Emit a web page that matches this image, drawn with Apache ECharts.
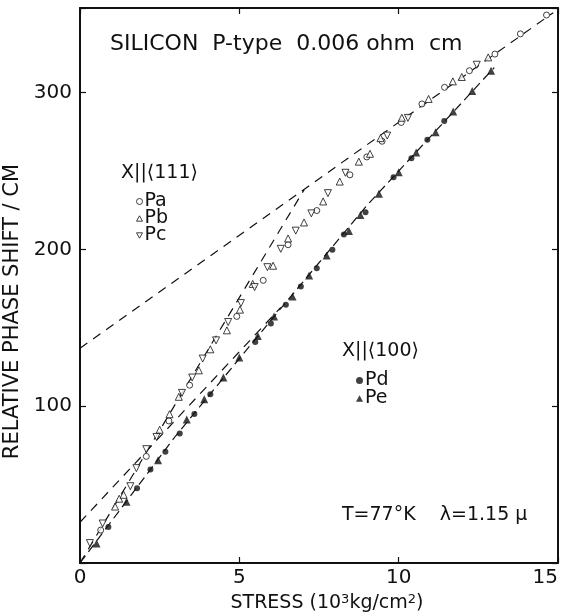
<!DOCTYPE html>
<html>
<head>
<meta charset="utf-8">
<script src="https://cdn.jsdelivr.net/npm/echarts@6/dist/echarts.min.js"></script>
<style>
  html, body { margin: 0; padding: 0; background: #fff; }
  #main { width: 561px; height: 614px; }
</style>
</head>
<body>
<div id="main"></div>
<script>
// tick values
const xTicks = [0, 5, 10, 15];
const yTicks = [100, 200, 300];

// X || <111>
const pa = [[0.65, 21], [2.08, 68], [2.79, 90.6], [3.44, 113.4], [4.92, 157.3], [5.75, 180.3],
  [6.53, 203], [7.43, 224.8], [8.47, 247.6], [9.0, 259], [9.48, 269], [10.08, 281],
  [10.73, 292.8], [11.44, 303.4], [12.22, 314], [13.02, 324.6], [13.82, 337.5], [14.64, 349.5]];
const pb = [[1.1, 36], [1.23, 41], [1.37, 43.5], [2.5, 85], [2.81, 94.9], [3.1, 106], [3.73, 122.9],
  [4.09, 136.3], [4.61, 148.4], [5.02, 161.6], [5.42, 178], [6.06, 189.6], [6.53, 207],
  [7.03, 217.2], [7.63, 230.6], [8.15, 243.3], [8.75, 256], [9.1, 261], [9.43, 271],
  [10.1, 284], [10.94, 296], [11.7, 307.2], [11.98, 310], [12.81, 322.5]];
const pc = [[0.31, 12.7], [0.71, 25.2], [1.58, 49], [1.77, 60.5], [2.08, 72.6], [2.4, 80.4],
  [3.2, 108.5], [3.52, 118.3], [3.85, 130.4], [4.27, 142], [4.65, 153.7], [5.05, 165.8],
  [5.48, 176], [5.88, 188.7], [6.3, 200.4], [6.77, 212], [7.26, 223], [7.78, 235.9],
  [8.33, 248.9], [9.64, 272.6], [10.29, 283.9], [12.45, 317.8]];

// X || <100>
const pd = [[0.89, 23], [1.79, 47.6], [2.21, 59.7], [2.68, 70.9], [3.13, 82.6], [3.59, 95],
  [4.09, 107.6], [5.5, 141], [5.99, 152.7], [6.46, 164.8], [6.93, 176.4], [7.43, 188],
  [7.92, 199.8], [8.28, 209.6], [8.96, 223.8], [9.84, 246], [10.4, 258.2], [10.9, 270], [11.43, 282]];
const pe = [[0.52, 12.5], [1.46, 39], [2.45, 65.6], [3.35, 91.5], [3.9, 104.5], [4.5, 118.3],
  [5.0, 131], [5.58, 144.8], [6.09, 157.3], [6.67, 170], [7.19, 183.4], [7.74, 196.2],
  [8.44, 211.7], [8.8, 222], [9.38, 235.5], [10.0, 249.2], [10.55, 261.8], [11.16, 274.8],
  [11.71, 288], [12.31, 301], [12.9, 314]];

// dashed guide lines
const upperLine = [[0, 137], [14.85, 351]];
const steepLine = [[0, 0], [7.03, 238]];
const offsetLine = [[0, 26], [6.3, 163]];
const filledLine = [[0, 0], [3, 81], [6, 155], [9, 228], [13, 316]];

const font = 'DejaVu Sans';
const ink = '#111';
const upTri = 'path://M5,0L10,9L0,9Z';
const downTri = 'path://M0,0L10,0L5,9Z';
const hollow = { color: '#fff', borderColor: ink, borderWidth: 1 };

let myChart = echarts.init(document.getElementById('main'));

function dashed(data, dash) {
  return {
    type: 'line', data: data, showSymbol: false, silent: true, z: 1,
    lineStyle: { color: ink, width: 1.2, type: dash || [8, 6] }
  };
}

function frameAxis(pos, extra) {
  return Object.assign({
    position: pos,
    axisLine: { show: true, onZero: false, lineStyle: { color: ink, width: 2 } },
    axisTick: { show: true, inside: true, length: 6, lineStyle: { color: ink, width: 1.2 } },
    splitLine: { show: false }
  }, extra);
}

const legendText = { fontSize: 19, color: ink, fontFamily: font, lineHeight: 15, padding: [0, 0, 0, -3] };

let option = {
  backgroundColor: '#fff',
  animation: false,
  textStyle: { fontFamily: font, color: ink },
  grid: { left: 80, right: 3, top: 8, bottom: 51, outerBoundsMode: 'none' },
  xAxis: [
    frameAxis('bottom', {
      type: 'value', min: 0, max: 15, interval: 5,
      axisLabel: {
        fontSize: 20, color: ink, margin: 5, alignMaxLabel: 'right',
        formatter: v => xTicks.includes(v) ? String(v) : ''
      },
      name: 'STRESS (10{s|3}kg/cm{s|2})',
      nameLocation: 'middle', nameGap: 29,
      nameTextStyle: {
        fontSize: 19, color: ink, fontFamily: font, padding: [0, 0, 0, 16],
        rich: { s: { fontSize: 13, verticalAlign: 'top', padding: [0, 0, 8, 0], fontFamily: font, color: ink } }
      }
    }),
    frameAxis('top', { type: 'value', min: 0, max: 15, interval: 5, axisLabel: { show: false } })
  ],
  yAxis: [
    frameAxis('left', {
      type: 'value', min: 0, max: 354, interval: 100,
      axisLabel: {
        fontSize: 20, color: ink, margin: 8,
        formatter: v => yTicks.includes(v) ? String(v) : ''
      },
      name: 'RELATIVE PHASE SHIFT / CM',
      nameLocation: 'middle', nameGap: 47, nameRotate: 90,
      nameTextStyle: { fontSize: 21, color: ink, fontFamily: font, padding: [0, 52, 0, 0] }
    }),
    frameAxis('right', { type: 'value', min: 0, max: 354, interval: 100, axisLabel: { show: false } })
  ],
  legend: [
    {
      data: [
        { name: 'Pa', icon: 'circle', itemStyle: hollow },
        { name: 'Pb', icon: upTri, itemStyle: hollow },
        { name: 'Pc', icon: downTri, itemStyle: hollow }
      ],
      orient: 'vertical', left: 131, top: 187,
      itemWidth: 6, itemHeight: 6, itemGap: -2, selectedMode: false,
      textStyle: legendText
    },
    {
      data: [{ name: 'Pd', icon: 'circle' }, { name: 'Pe', icon: upTri }],
      orient: 'vertical', left: 351, top: 366,
      itemWidth: 7, itemHeight: 7, itemGap: -1, selectedMode: false,
      textStyle: legendText
    }
  ],
  graphic: [
    { type: 'text', left: 110, top: 33, style: { text: 'SILICON  P-type  0.006 ohm  cm', fontSize: 22, fontFamily: font, fill: ink } },
    { type: 'text', left: 121, top: 164, style: { text: 'X||\u27E8111\u27E9', fontSize: 19, fontFamily: font, fill: ink } },
    { type: 'text', left: 342, top: 342, style: { text: 'X||\u27E8100\u27E9', fontSize: 19, fontFamily: font, fill: ink } },
    { type: 'text', left: 342, top: 506, style: { text: 'T=77\u00B0K    \u03BB=1.15 \u03BC', fontSize: 19, fontFamily: font, fill: ink } }
  ],
  series: [
    dashed(upperLine, [9, 7]),
    dashed(steepLine, [9, 7]),
    dashed(offsetLine, [9, 7]),
    dashed(filledLine, [9, 5]),
    {
      name: 'Pa', type: 'scatter', data: pa, symbol: 'circle', symbolSize: 6, z: 3,
      itemStyle: hollow
    },
    {
      name: 'Pb', type: 'scatter', data: pb, symbol: 'triangle', symbolSize: 7, z: 3,
      itemStyle: hollow
    },
    {
      name: 'Pc', type: 'scatter', data: pc, symbol: 'triangle', symbolRotate: 180, symbolSize: 7, z: 3,
      itemStyle: hollow
    },
    {
      name: 'Pd', type: 'scatter', data: pd, symbol: 'circle', symbolSize: 6, z: 3,
      itemStyle: { color: ink }
    },
    {
      name: 'Pe', type: 'scatter', data: pe, symbol: 'triangle', symbolSize: 8, z: 3,
      itemStyle: { color: ink }
    }
  ]
};

myChart.setOption(option);
</script>
</body>
</html>
